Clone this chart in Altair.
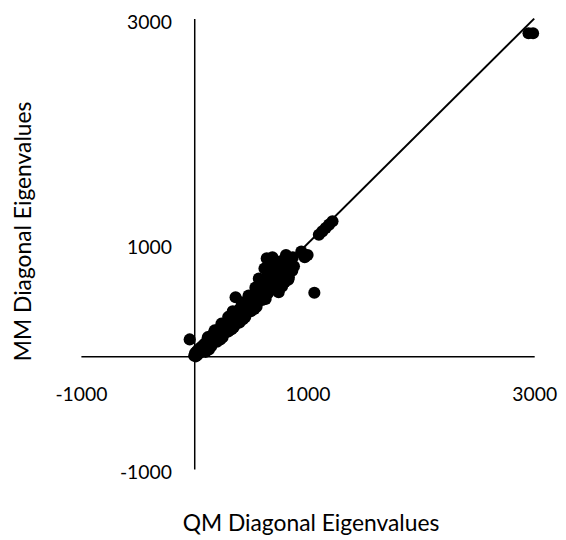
import altair as alt
import pandas as pd

# QM (x) and MM (y) diagonal eigenvalues
qm = [0, 8, 15, 22, -40, 30, 38, 45, 55, 62, 70, 80, 90, 100, 110, 120, 130, 140,
      150, 160, 170, 180, 190, 200, 210, 220, 235, 250, 260, 275, 290, 300, 315,
      330, 345, 360, 365, 375, 390, 400, 415, 430, 445, 460, 475, 490, 505, 520,
      535, 550, 565, 570, 580, 595, 610, 625, 640, 645, 655, 665, 680, 690, 700,
      710, 720, 735, 745, 750, 760, 775, 790, 800, 810, 820, 835, 850, 865, 880,
      945, 975, 1000, 1060, 1100, 1130, 1160, 1190, 1220, 2950, 2990,
      100, 150, 200, 250, 300, 350, 400, 450, 500, 550, 600, 650, 700,
      120, 180, 240, 300, 340, 420, 480, 540, 600, 660, 700, 740, 780, 840, 870,
      130, 230, 330, 430, 530, 630, 730, 830, 620, 690]
mm = [5, 30, 0, 45, 150, 15, 60, 30, 75, 40, 90, 55, 110, 70, 130, 90, 150, 110,
      180, 120, 200, 145, 215, 160, 235, 180, 250, 200, 280, 230, 300, 250, 320,
      270, 350, 300, 525, 380, 330, 420, 360, 440, 390, 470, 410, 500, 440, 540,
      470, 580, 500, 690, 620, 540, 660, 580, 870, 700, 620, 760, 660, 820, 720,
      650, 780, 700, 570, 840, 740, 620, 800, 660, 900, 760, 700, 820, 760, 800,
      930, 880, 900, 565, 1080, 1110, 1140, 1170, 1200, 2870, 2870,
      40, 90, 130, 170, 220, 260, 300, 350, 400, 440, 500, 560, 600,
      170, 230, 290, 350, 400, 480, 540, 610, 680, 740, 800, 820, 850, 860, 880,
      60, 150, 240, 330, 420, 510, 610, 680, 780, 880]

# trend line end points
line_x = [0, 3000]
line_y = [0, 3000]

tick_vals = [-1000, 1000, 3000]
domain = [-1000, 3000]

W, H = 457, 454
FONT = "Lato"
LABEL_EXPR = "toString(datum.value)"

pts = pd.DataFrame({"qm": qm, "mm": mm})
ln = pd.DataFrame({"qm": line_x, "mm": line_y})

xscale = alt.Scale(domain=domain, nice=False, zero=False)
yscale = alt.Scale(domain=domain, nice=False, zero=False)

xaxis = alt.Axis(
    title="QM Diagonal Eigenvalues", values=tick_vals, labelExpr=LABEL_EXPR,
    grid=False, ticks=False, tickSize=0, offset=-H / 4, domainColor="black",
    domainWidth=1.5, labelFont=FONT, labelFontSize=19.5, labelColor="black",
    labelPadding=30, labelFlush=False, labelOverlap=False,
    titleFont=FONT, titleFontSize=23, titleFontWeight="normal", titleColor="black",
    titleX=231.5, titleY=176, titleAlign="center", titleBaseline="alphabetic",
)
yaxis = alt.Axis(
    title="MM Diagonal Eigenvalues", values=tick_vals, labelExpr=LABEL_EXPR,
    grid=False, ticks=False, tickSize=0, offset=-W / 4, domainColor="black",
    domainWidth=1.5, labelFont=FONT, labelFontSize=19.5, labelColor="black",
    labelPadding=23, labelOffset=4, labelFlush=False, labelOverlap=False,
    titleFont=FONT, titleFontSize=23, titleFontWeight="normal", titleColor="black",
    titleX=-165, titleY=214, titleAngle=270, titleAlign="center",
    titleBaseline="alphabetic",
)

trend = alt.Chart(ln).mark_line(color="black", strokeWidth=2).encode(
    x=alt.X("qm:Q", scale=xscale, axis=xaxis),
    y=alt.Y("mm:Q", scale=yscale, axis=yaxis),
)
points = alt.Chart(pts).mark_circle(color="black", opacity=1, size=150).encode(
    x=alt.X("qm:Q", scale=xscale, axis=xaxis),
    y=alt.Y("mm:Q", scale=yscale, axis=yaxis),
)

chart = (
    alt.layer(trend, points)
    .properties(
        width=W, height=H,
        background="white",
        autosize=alt.AutoSizeParams(type="none"),
        padding={"left": 73.5, "top": 8.5, "right": 24, "bottom": 70},
    )
    .configure_view(strokeWidth=0, stroke="transparent")
)

chart.save("out.html", embed_options={"renderer": "svg", "actions": False})
